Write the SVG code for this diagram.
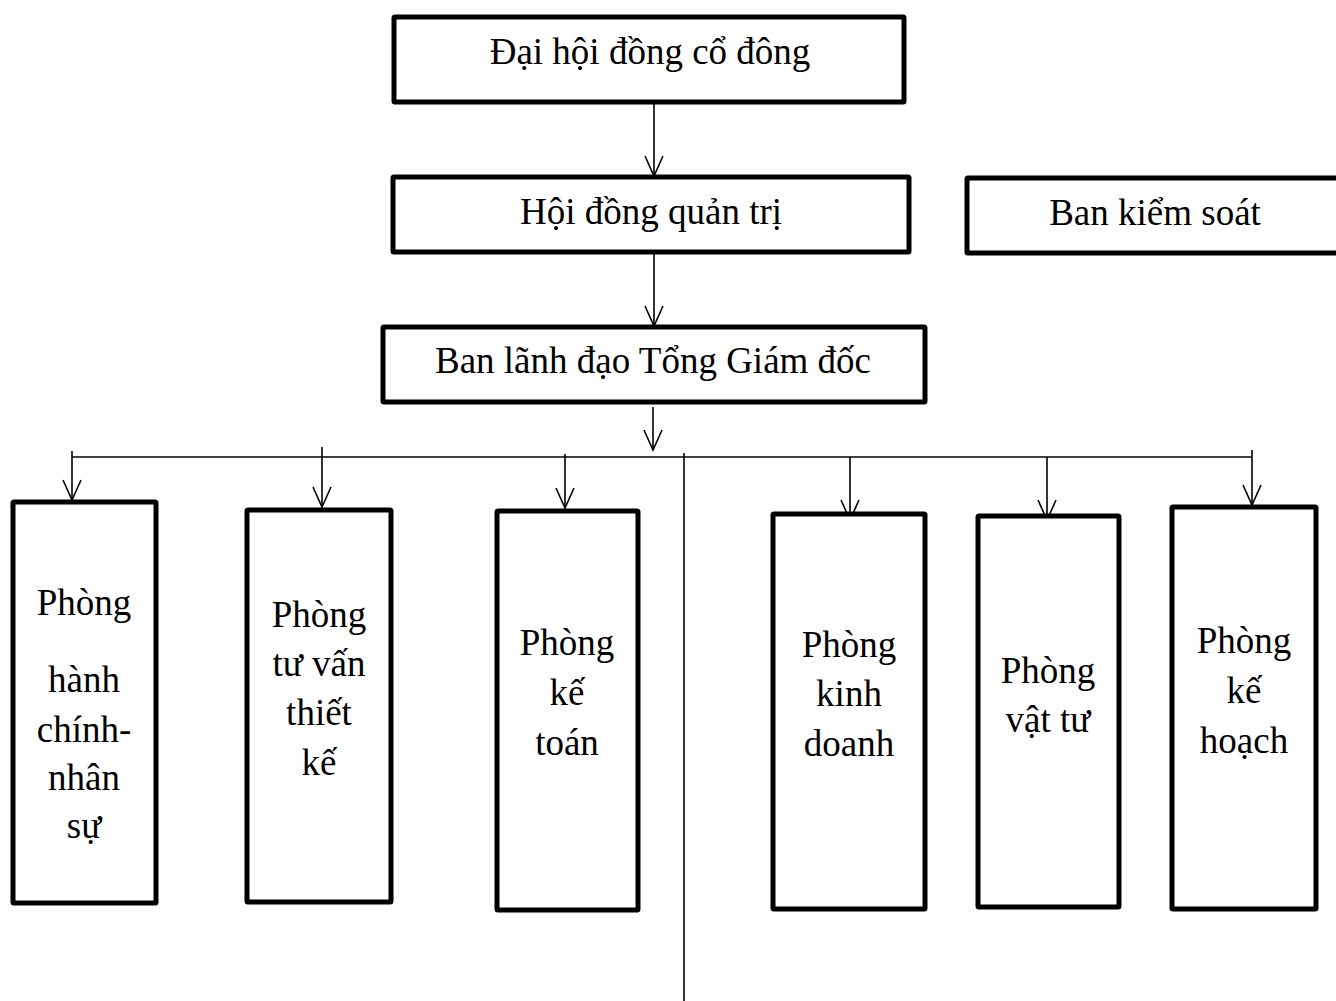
<svg xmlns="http://www.w3.org/2000/svg" width="1336" height="1001" viewBox="0 0 1336 1001">
<style>
.box{fill:#fff;stroke:#000;stroke-width:5;stroke-linejoin:round}
.t{font-family:"Liberation Serif","Times New Roman",serif;font-size:37px;fill:#000;text-anchor:middle}
.ln{stroke:#000;stroke-width:1.6;fill:none}
</style>
<defs>
<marker id="ah" markerUnits="userSpaceOnUse" viewBox="-22 -11 24 22" refX="0" refY="0" markerWidth="24" markerHeight="22" orient="auto" overflow="visible">
<path d="M-20,-9 L0,0 L-20,9" fill="none" stroke="#000" stroke-width="1.6"/>
</marker>
</defs>
<g id="connectors">
<line class="ln" x1="654" y1="100" x2="654" y2="176" marker-end="url(#ah)"/>
<line class="ln" x1="654" y1="254" x2="654" y2="326" marker-end="url(#ah)"/>
<line class="ln" x1="653" y1="407" x2="653" y2="450" marker-end="url(#ah)"/>
<line class="ln" x1="72" y1="457" x2="1252" y2="457"/>
<line class="ln" x1="72" y1="451" x2="72" y2="500" marker-end="url(#ah)"/>
<line class="ln" x1="322" y1="447" x2="322" y2="507" marker-end="url(#ah)"/>
<line class="ln" x1="565" y1="454" x2="565" y2="508" marker-end="url(#ah)"/>
<line class="ln" x1="684" y1="453" x2="684" y2="1001"/>
<line class="ln" x1="850" y1="457" x2="850" y2="520" marker-end="url(#ah)"/>
<line class="ln" x1="1047" y1="457" x2="1047" y2="520" marker-end="url(#ah)"/>
<line class="ln" x1="1252" y1="450" x2="1252" y2="505" marker-end="url(#ah)"/>
</g>
<g id="dhdcd">
<rect class="box" x="394" y="17" width="510" height="85" rx="1"/>
<text class="t" x="650" y="64">Đại hội đồng cổ đông</text>
</g>
<g id="hdqt">
<rect class="box" x="393" y="177" width="516" height="75" rx="1"/>
<text class="t" x="651" y="224">Hội đồng quản trị</text>
</g>
<g id="bks">
<rect class="box" x="967" y="178" width="380" height="75" rx="1"/>
<text class="t" x="1155" y="225">Ban kiểm soát</text>
</g>
<g id="bld">
<rect class="box" x="383" y="327" width="542" height="75" rx="1"/>
<text class="t" x="653" y="373">Ban lãnh đạo Tổng Giám đốc</text>
</g>
<g id="p1">
<rect class="box" x="13" y="502" width="143" height="401" rx="1"/>
<text class="t" x="84" y="615">Phòng</text>
<text class="t" x="84" y="692">hành</text>
<text class="t" x="84" y="742">chính-</text>
<text class="t" x="84" y="790">nhân</text>
<text class="t" x="84" y="838">sự</text>
</g>
<g id="p2">
<rect class="box" x="247" y="510" width="144" height="392" rx="1"/>
<text class="t" x="319" y="627">Phòng</text>
<text class="t" x="319" y="676">tư vấn</text>
<text class="t" x="319" y="725">thiết</text>
<text class="t" x="319" y="775">kế</text>
</g>
<g id="p3">
<rect class="box" x="497" y="511" width="141" height="399" rx="1"/>
<text class="t" x="567" y="655">Phòng</text>
<text class="t" x="567" y="705">kế</text>
<text class="t" x="567" y="755">toán</text>
</g>
<g id="p4">
<rect class="box" x="773" y="514" width="152" height="395" rx="1"/>
<text class="t" x="849" y="657">Phòng</text>
<text class="t" x="849" y="706">kinh</text>
<text class="t" x="849" y="756">doanh</text>
</g>
<g id="p5">
<rect class="box" x="978" y="516" width="141" height="391" rx="1"/>
<text class="t" x="1048" y="683">Phòng</text>
<text class="t" x="1048" y="732">vật tư</text>
</g>
<g id="p6">
<rect class="box" x="1172" y="507" width="144" height="402" rx="1"/>
<text class="t" x="1244" y="653">Phòng</text>
<text class="t" x="1244" y="703">kế</text>
<text class="t" x="1244" y="753">hoạch</text>
</g>
</svg>
